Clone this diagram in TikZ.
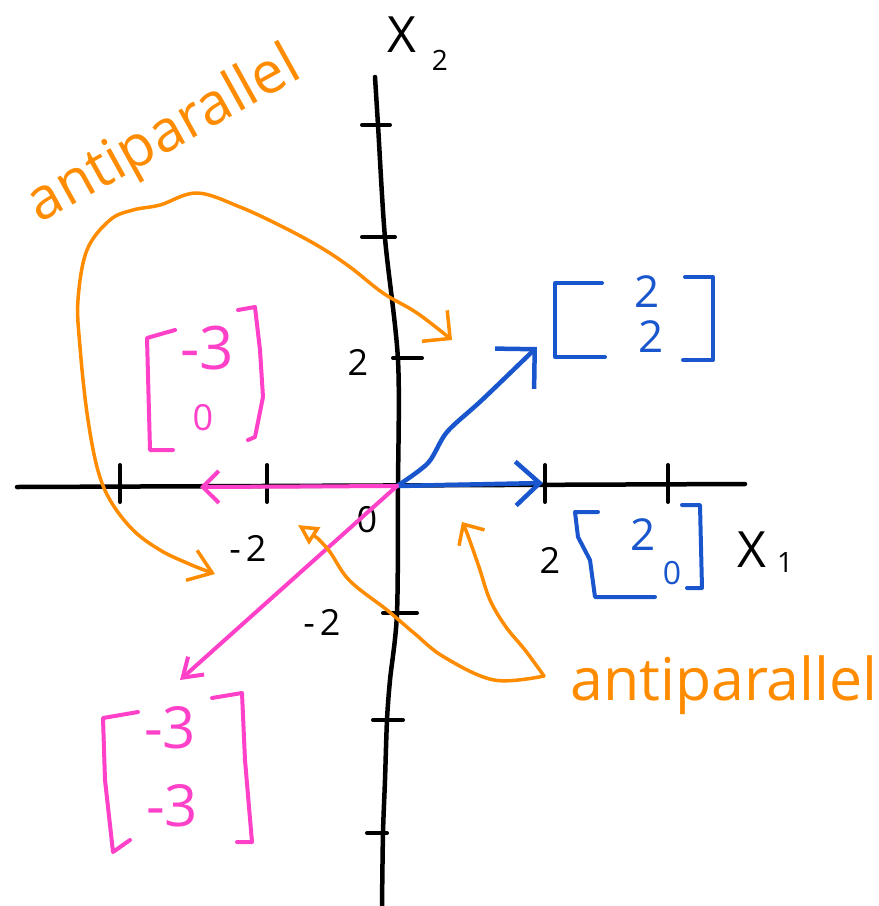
\documentclass[tikz,border=0pt]{standalone}
\usepackage{fontspec}
\setmainfont{Open Sans}
\usetikzlibrary{arrows.meta}
\definecolor{hblue}{RGB}{25,85,205}
\definecolor{hpink}{RGB}{255,64,200}
\definecolor{horange}{RGB}{255,140,0}
\newcommand{\fsz}[1]{\fontsize{#1}{#1}\selectfont}
\begin{document}
\begin{tikzpicture}[x=1pt,y=-1pt,line cap=round,line join=round,
  axisline/.style={line width=4.5pt,black},
  tickmark/.style={line width=4pt,black},
  bluevec/.style={hblue,line width=4.5pt},
  pinkvec/.style={hpink,line width=4pt},
  orangecurve/.style={horange,line width=3.5pt},
  bracketb/.style={hblue,line width=4pt},
  bracketp/.style={hpink,line width=4pt},
  txt/.style={inner sep=0pt,anchor=center},
  axnum/.style={txt,font=\fsz{36},text=black},
]
\useasboundingbox (0,0) rectangle (879,906);

% axes
\coordinate (O) at (397,486);
\draw[axisline] (17,487) -- (745,484);
\draw[axisline] plot[smooth,tension=0.5] coordinates {(375,77) (378,125) (385,238) (398,360) (398,487) (397,613) (390,680) (387,720) (385,780) (383,833) (382,906)};

% ticks
\foreach \x in {120,267,545,668} \draw[tickmark] (\x,465) -- (\x,502);
\draw[tickmark] (362,125) -- (390,125);
\draw[tickmark] (362,237) -- (395,237);
\draw[tickmark] (393,358) -- (422,358);
\draw[tickmark] (383,613) -- (417,613);
\draw[tickmark] (373,720) -- (403,720);
\draw[tickmark] (367,833) -- (387,833);

% axis labels
\node[txt,font=\fsz{50}] (x2) at (402,35) {X};
\node[txt,font=\fsz{28}] (x2s) at (440,60) {2};
\node[txt,font=\fsz{50}] (x1) at (752,550) {X};
\node[txt,font=\fsz{28}] (x1s) at (785,562) {1};
\node[axnum] (ly2) at (358,362) {2};
\node[axnum] (lym2) at (322,622) {-\kern5pt2};
\node[axnum] (lxm2) at (248,548) {-\kern5pt2};
\node[axnum] (l0) at (367,520) {0};
\node[axnum] (lx2) at (550,560) {2};

% blue vectors
\coordinate (A) at (537,347);
\coordinate (B) at (543,483);
\draw[bluevec,-{Straight Barb[length=28pt,width=56pt]}] plot[smooth,tension=0.5] coordinates {(O) (428,463) (447,432) (482,400) (A)};
\draw[bluevec,-{Straight Barb[length=24pt,width=44pt]}] (O) -- (B);

% pink vectors
\coordinate (P1) at (200,487);
\coordinate (P2) at (180,680);
\draw[pinkvec,-{Straight Barb[length=16pt,width=32pt]}] (O) -- (P1);
\draw[pinkvec,-{Straight Barb[length=18pt,width=24pt]}] (O) -- (P2);

% blue brackets
\draw[bracketb] (602,283) -- (555,283) -- (555,357) -- (605,357);
\draw[bracketb] (685,277) -- (713,277) -- (713,360) -- (683,360);
\node[txt,font=\fsz{44},text=hblue] (b11) at (647,292) {2};
\node[txt,font=\fsz{44},text=hblue] (b12) at (651,337) {2};
\draw[bracketb] (598,512) -- (575,512) -- (578,537) -- (590,560) -- (595,597) -- (655,597);
\draw[bracketb] (682,505) -- (700,505) -- (702,588) -- (687,588);
\node[txt,font=\fsz{44},text=hblue] (b21) at (643,535) {2};
\node[txt,font=\fsz{32},text=hblue] (b22) at (672,573) {0};

% pink brackets
\draw[bracketp] (175,330) -- (147,338) -- (150,450) -- (173,450);
\draw[bracketp] (238,310) -- (255,307) -- (260,350) -- (263,397) -- (255,437) -- (248,440);
\node[txt,font=\fsz{60},text=hpink] (p11) at (207,348) {-3};
\node[txt,font=\fsz{36},text=hpink] (p12) at (203,418) {0};
\draw[bracketp] (138,712) -- (103,718) -- (105,780) -- (113,852) -- (130,840);
\draw[bracketp] (212,698) -- (242,693) -- (245,760) -- (252,842) -- (237,842);
\node[txt,font=\fsz{58},text=hpink] (p21) at (170,728) {-3};
\node[txt,font=\fsz{58},text=hpink] (p22) at (172,806) {-3};

% orange labels
\node[inner sep=0pt,anchor=base,font=\fsz{58},text=horange,rotate=29] (ap1) at (172,150) {antiparallel};
\node[inner sep=0pt,anchor=base,font=\fsz{59},text=horange] (ap2) at (724,700) {antiparallel};

% orange curves
\coordinate (L1) at (215,574);
\coordinate (L2) at (452,340);
\draw[orangecurve,{Straight Barb[length=22pt,width=32pt]}-{Straight Barb[length=20pt,width=40pt]}] plot[smooth,tension=0.6] coordinates {(L1) (187,563) (160,550) (133,530) (110,500) (97,467) (87,413) (80,347) (78,300) (87,250) (110,220) (133,210) (160,205) (197,193) (240,207) (283,227) (320,247) (350,267) (383,293) (417,313) (L2)};
\coordinate (M) at (544,676);
\coordinate (T1) at (462,522);
\coordinate (T2) at (298,525);
\draw[orangecurve,-{Straight Barb[length=16pt,width=30pt]}] plot[smooth,tension=0.6] coordinates {(M) (525,650) (506,627) (490,600) (479,567) (467,533) (T1)};
\draw[orangecurve,{Triangle[open,length=20pt,width=20pt]}-] plot[smooth,tension=0.6] coordinates {(T2) (326,547) (349,580) (387,610) (414,633) (444,657) (494,680) (M)};
\end{tikzpicture}
\end{document}
